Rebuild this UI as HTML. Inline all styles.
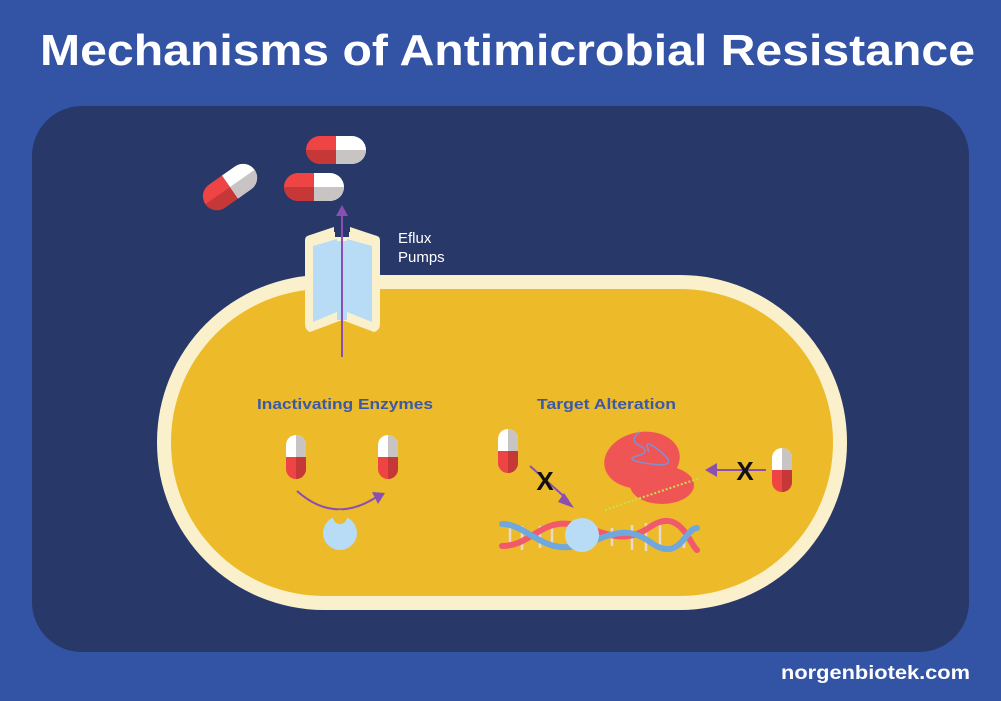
<!DOCTYPE html>
<html><head><style>body{margin:0}svg{display:block}</style></head><body>
<svg width="1001" height="701" viewBox="0 0 1001 701" xmlns="http://www.w3.org/2000/svg" font-family="Liberation Sans, sans-serif">
<defs>
<g id="hp"><path d="M14 0H30V28H14A14 14 0 0 1 14 0Z" fill="#ee4444"/><path d="M0 14H30V28H14A14 14 0 0 1 0 14Z" fill="#c63838"/><path d="M30 0H46A14 14 0 0 1 46 28H30Z" fill="#ffffff"/><path d="M30 14H60A14 14 0 0 1 46 28H30Z" fill="#c8c4c4"/></g>
<g id="vp"><path d="M0 10A10 10 0 0 1 20 10V22H0Z" fill="#fff"/><path d="M10 0A10 10 0 0 1 20 10V22H10Z" fill="#c8c4c4"/><path d="M0 22H20V34A10 10 0 0 1 0 34Z" fill="#ee4444"/><path d="M10 22H20V34A10 10 0 0 1 10 44Z" fill="#c63838"/></g>
</defs>
<rect width="1001" height="701" fill="#3353a4"/>
<text x="40" y="65" font-size="44" font-weight="bold" fill="#fff" textLength="935" lengthAdjust="spacingAndGlyphs">Mechanisms of Antimicrobial Resistance</text>
<rect x="32" y="106" width="937" height="546" rx="50" fill="#283868"/>
<text x="781" y="679" font-size="19" font-weight="bold" fill="#fff" textLength="189" lengthAdjust="spacingAndGlyphs">norgenbiotek.com</text>
<!-- cell -->
<rect x="157" y="275" width="690" height="335" rx="167" fill="#faf0cc"/>
<rect x="171" y="289" width="662" height="307" rx="153" fill="#edba2a"/>
<!-- pump -->
<path d="M305 240Q305 236 310 235L334 227V232L342 232L350 232V227L374 235Q380 236 380 240V324Q380 330 374 332L342 320L310 332Q305 330 305 324Z" fill="#faf0cc"/>
<path d="M313 246L337 239V241L347 241V239L372 246V322L347 312V320H337V312L313 322Z" fill="#b8dcf5"/>
<path d="M335 225H349V237H335Z" fill="#283868"/>
<line x1="342" y1="357" x2="342" y2="212" stroke="#8a4fb0" stroke-width="2"/>
<path d="M336 216L342 205L348 216Z" fill="#8a4fb0"/>
<text x="398" y="243" font-size="15" fill="#fff">Eflux</text>
<text x="398" y="262" font-size="15" fill="#fff">Pumps</text>
<use href="#hp" x="306" y="136"/>
<use href="#hp" x="284" y="173"/>
<use href="#hp" transform="translate(230 187) rotate(-35) translate(-30 -14)"/>
<!-- labels -->
<text x="257" y="409" font-size="15" font-weight="bold" fill="#3a5aa8" textLength="176" lengthAdjust="spacingAndGlyphs">Inactivating Enzymes</text>
<text x="537" y="409" font-size="15" font-weight="bold" fill="#3a5aa8" textLength="139" lengthAdjust="spacingAndGlyphs">Target Alteration</text>
<use href="#vp" x="286" y="435"/>
<use href="#vp" x="378" y="435"/>
<path d="M297 491Q335 525 378 496" fill="none" stroke="#8a4fb0" stroke-width="2"/>
<path d="M372 492L385 493L378 504Z" fill="#8a4fb0"/>
<circle cx="340" cy="533" r="17" fill="#b8dcf5"/>
<circle cx="340" cy="517" r="7" fill="#edba2a"/>
<use href="#vp" x="498" y="429"/>
<use href="#vp" x="772" y="448"/>
<line x1="530" y1="466" x2="568" y2="500" stroke="#8a4fb0" stroke-width="2"/>
<path d="M564 493L574 508L558 502Z" fill="#8a4fb0"/>
<text x="545" y="490" font-size="26" font-weight="bold" fill="#111" text-anchor="middle">X</text>
<line x1="766" y1="470" x2="714" y2="470" stroke="#8a4fb0" stroke-width="2"/>
<path d="M705 470L717 463V477Z" fill="#8a4fb0"/>
<text x="745" y="480" font-size="26" font-weight="bold" fill="#111" text-anchor="middle">X</text>
<!-- ribosome -->
<ellipse cx="642" cy="460" rx="38" ry="28" fill="#f05555" transform="rotate(-10 642 460)"/>
<ellipse cx="662" cy="485" rx="32" ry="19" fill="#f05555"/>
<path d="M640 432q-12 8 0 14t-3 10 14 8 10-12-12 0" fill="none" stroke="#8090d0" stroke-width="1.5"/>
<line x1="605" y1="510" x2="700" y2="478" stroke="#c8e050" stroke-width="2" stroke-dasharray="2 2"/>
<!-- DNA -->
<g stroke-width="2.5" stroke="#e8d8d0">
<line x1="510" y1="528" x2="510" y2="548"/><line x1="522" y1="526" x2="522" y2="550"/><line x1="540" y1="526" x2="540" y2="548"/><line x1="552" y1="528" x2="552" y2="546"/><line x1="612" y1="528" x2="612" y2="546"/><line x1="632" y1="525" x2="632" y2="550"/><line x1="646" y1="523" x2="646" y2="551"/><line x1="660" y1="525" x2="660" y2="550"/><line x1="684" y1="528" x2="684" y2="548"/>
</g>
<path d="M502 546C530 546 540 520 570 524S620 548 650 527S690 545 697 550" fill="none" stroke="#f05a6a" stroke-width="6" stroke-linecap="round"/>
<path d="M502 524C525 524 540 550 570 547S620 520 650 542S685 528 697 528" fill="none" stroke="#6fa8dc" stroke-width="6" stroke-linecap="round"/>
<circle cx="582" cy="535" r="17" fill="#b8dcf5"/>
</svg>
</body></html>
